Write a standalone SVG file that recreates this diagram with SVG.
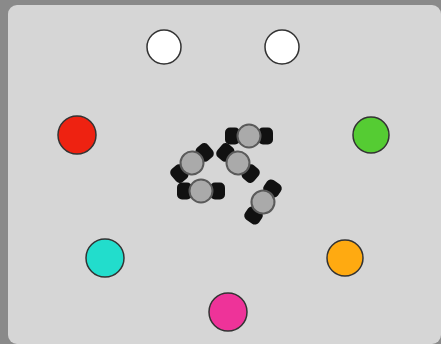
<svg xmlns="http://www.w3.org/2000/svg" width="441" height="344" viewBox="0 0 441 344">
<defs>
<style>
.ball{stroke:#333;stroke-width:1.5}
.wheel{fill:#111}
.body{fill:#aaaaaa;stroke:#5a5a5a;stroke-width:2}
</style>
<g id="robot">
<rect class="wheel" x="-24" y="-8.5" width="15" height="17" rx="5"/>
<rect class="wheel" x="9" y="-8.5" width="15" height="17" rx="5"/>
<circle class="body" r="11.5"/>
</g>
</defs>
<rect width="441" height="344" fill="#8a8a8a"/>
<rect x="8" y="5" width="433" height="339" rx="9" fill="#d6d6d6"/>
<g id="white1"><circle class="ball" cx="164" cy="47" r="17" fill="#ffffff"/></g>
<g id="white2"><circle class="ball" cx="282" cy="47" r="17" fill="#ffffff"/></g>
<g id="red"><circle class="ball" cx="77" cy="135" r="19" fill="#ee2211"/></g>
<g id="green"><circle class="ball" cx="371" cy="135" r="18" fill="#55cc33"/></g>
<g id="cyan"><circle class="ball" cx="105" cy="258" r="19" fill="#22ddcc"/></g>
<g id="orange"><circle class="ball" cx="345" cy="258" r="18" fill="#ffaa11"/></g>
<g id="pink"><circle class="ball" cx="228" cy="312" r="19" fill="#ee3399"/></g>
<g id="robot1"><use href="#robot" transform="translate(249,136)"/></g>
<g id="robot2"><use href="#robot" transform="translate(192,163) rotate(-40)"/></g>
<g id="robot3"><use href="#robot" transform="translate(238,163) rotate(40)"/></g>
<g id="robot4"><use href="#robot" transform="translate(201,191)"/></g>
<g id="robot5"><use href="#robot" transform="translate(263,202) rotate(-55)"/></g>
<g id="connectors"/>
</svg>
